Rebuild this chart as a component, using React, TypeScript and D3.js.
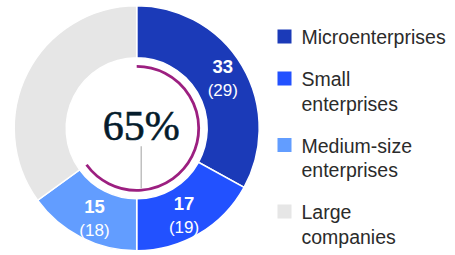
import React, { useEffect, useRef } from "react";
import * as d3 from "d3";

// segment data, clockwise from 12 o'clock
const categories = ["Microenterprises", "Small enterprises", "Medium-size enterprises", "Large companies"];
const legendLines = [["Microenterprises"], ["Small", "enterprises"], ["Medium-size", "enterprises"], ["Large", "companies"]];
const shares = [33, 17, 15, 35];
const previous = [29, 19, 18, null];
const colors = ["#1b3ab8", "#2251ff", "#629dff", "#e6e6e6"];
const highlightShare = 65;
const centerLabel = "65%";

const W = 455;
const H = 255;

export default function App() {
  const ref = useRef<SVGSVGElement>(null);

  useEffect(() => {
    const svg = d3.select(ref.current);
    svg.selectAll("*").remove();

    const cx = 136.7;
    const cy = 128.3;
    const outerR = 122.5;
    const innerR = 70.5;

    const data = categories.map((c, i) => ({ name: c, value: shares[i], prev: previous[i], color: colors[i] }));

    const pie = d3.pie<any>().value((d) => d.value).sort(null);
    const arcs = pie(data);
    const arc = d3.arc<any>().innerRadius(innerR).outerRadius(outerR);
    const labelArc = d3.arc<any>().innerRadius(100).outerRadius(100);

    const g = svg.append("g").attr("transform", `translate(${cx},${cy})`);

    g.selectAll("path.seg")
      .data(arcs)
      .enter()
      .append("path")
      .attr("class", "seg")
      .attr("d", arc)
      .attr("fill", (d) => d.data.color)
      .attr("stroke", "#fff")
      .attr("stroke-width", 1.5);

    // purple highlight arc
    const angle = d3.scaleLinear().domain([0, 100]).range([0, 2 * Math.PI]);
    const hlArc = d3.arc<any>().innerRadius(62).outerRadius(62).startAngle(0).endAngle(angle(highlightShare));
    g.append("path")
      .attr("d", hlArc({}) as string)
      .attr("fill", "none")
      .attr("stroke", "#9c1f80")
      .attr("stroke-width", 2.8);

    // segment labels, pulled a little toward the vertical axis like the original
    const lbl = g.selectAll("g.lbl")
      .data(arcs.filter((d) => d.data.prev !== null))
      .enter()
      .append("g")
      .attr("class", "lbl")
      .attr("transform", (d) => {
        const [x, y] = labelArc.centroid(d);
        const nx = y > 0 ? x * 0.93 : x;
        return `translate(${nx},${y})`;
      })
      .attr("text-anchor", "middle")
      .attr("fill", "#fff")
      .style("font-family", "'Liberation Sans', Arial, sans-serif");

    lbl.append("text")
      .attr("y", -4)
      .style("font-size", "18.5px")
      .style("font-weight", "bold")
      .text((d) => d.data.value);

    lbl.append("text")
      .attr("y", 19)
      .style("font-size", "17px")
      .text((d) => `(${d.data.prev})`);

    // center text and tick
    g.append("text")
      .attr("x", 4.5)
      .attr("y", 12)
      .attr("text-anchor", "middle")
      .attr("fill", "#051c2c")
      .attr("stroke", "#051c2c")
      .attr("stroke-width", 0.6)
      .style("font-family", "'Liberation Serif', 'Times New Roman', serif")
      .style("font-size", "42px")
      .text(centerLabel);

    g.append("line")
      .attr("x1", 4.5)
      .attr("x2", 4.5)
      .attr("y1", 18)
      .attr("y2", 60)
      .attr("stroke", "#b0b0b0")
      .attr("stroke-width", 1.2);

    // legend
    const lineH = 24.5;
    const gap = 17.5;
    const legend = svg.append("g").attr("transform", "translate(277.5,44)");
    let y = 0;
    legendLines.forEach((lines, i) => {
      const item = legend.append("g").attr("transform", `translate(0,${y})`);
      item.append("rect")
        .attr("x", 0)
        .attr("y", -14.5)
        .attr("width", 14)
        .attr("height", 14)
        .attr("fill", colors[i]);
      const t = item.append("text")
        .attr("fill", "#2b2b2b")
        .style("font-family", "'Liberation Sans', Arial, sans-serif")
        .style("font-size", "19.5px");
      lines.forEach((l, j) => {
        t.append("tspan").attr("x", 24).attr("y", j * lineH).text(l);
      });
      y += lines.length * lineH + gap;
    });
  }, []);

  return (
    <svg
      ref={ref}
      width={W}
      height={H}
      style={{ position: "absolute", left: 0, top: 0, background: "#fff" }}
    />
  );
}
